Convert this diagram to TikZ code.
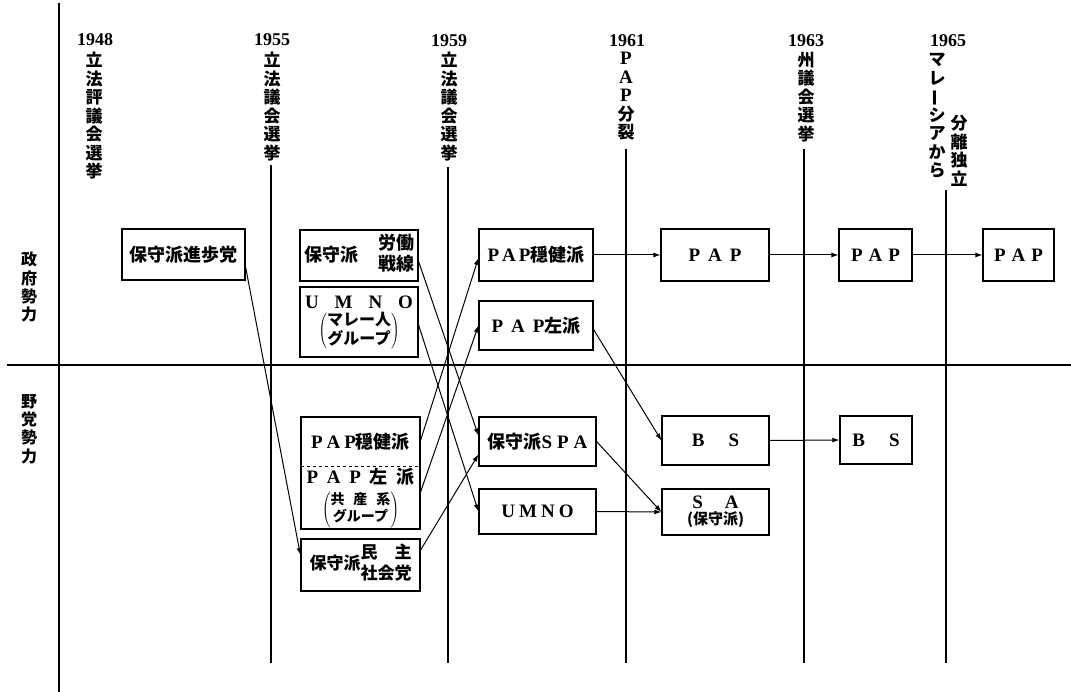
\documentclass[tikz,border=0pt]{standalone}
\usepackage{fontspec}
\usepackage{graphicx}
\setmainfont{Noto Sans CJK JP}
\newfontfamily\latf{Liberation Serif}
\newcommand\latb{\latf\bfseries\fontsize{19}{20}\selectfont}
\usetikzlibrary{arrows.meta}
\begin{document}
\begin{tikzpicture}[x=1pt,y=-1pt,
  box/.style={draw, line width=1.2pt, inner sep=0pt, font=\bfseries\fontsize{18}{21}\selectfont},
  inbox/.style={inner sep=0pt, font=\bfseries\fontsize{18}{21}\selectfont},
  arr/.style={line width=1pt, -{Latex[length=7pt,width=5pt]}},
  vlab/.style={inner sep=0pt, align=center, anchor=north, font=\bfseries\fontsize{17}{18.5}\selectfont},
  year/.style={inner sep=0pt, font=\latf\bfseries\fontsize{18}{18}\selectfont},
  yline/.style={line width=1.3pt},
  axis/.style={line width=2pt},
]
\useasboundingbox (0,0) rectangle (1071,692);

% axes
\draw[axis] (59,3) -- (59,692);
\draw[axis] (7,365) -- (1071,365);

% side labels
\node[vlab, font=\bfseries\fontsize{16}{18.3}\selectfont] (gov) at (29,252) {政\\府\\勢\\力};
\node[vlab, font=\bfseries\fontsize{16}{18.3}\selectfont] (opp) at (29,394) {野\\党\\勢\\力};

% year headers
\node[year] (y48) at (95,40) {1948};
\node[vlab] (t48) at (94,52) {立\\法\\評\\議\\会\\選\\挙};
\node[year] (y55) at (272,40) {1955};
\node[vlab] (t55) at (272,52) {立\\法\\議\\会\\選\\挙};
\node[year] (y59) at (449,41) {1959};
\node[vlab] (t59) at (449,52) {立\\法\\議\\会\\選\\挙};
\node[year] (y61) at (627,41) {1961};
\node[vlab] (t61) at (626,52) {{\latf\fontsize{19}{18.5}\selectfont P}\\{\latf\fontsize{19}{18.5}\selectfont A}\\{\latf\fontsize{19}{18.5}\selectfont P}\\分\\裂};
\node[year] (y63) at (806,41) {1963};
\node[vlab] (t63) at (806,52) {州\\議\\会\\選\\挙};
\node[year] (y65) at (948,41) {1965};
\node[vlab] (t65a) at (937,53) {マ\\レ\\\rotatebox[origin=c]{90}{ー}\\シ\\ア\\か\\ら};
\node[vlab] (t65b) at (959,115) {分\\離\\独\\立};

% year lines
\draw[yline] (271,165) -- (271,663);
\draw[yline] (448,167) -- (448,663);
\draw[yline] (626,149) -- (626,663);
\draw[yline] (804,149) -- (804,663);
\draw[yline] (946,190) -- (946,663);

% government side boxes
\node[box, minimum width=123pt, minimum height=51pt] (kpp) at (183.5,254.5) {保守派進歩党};
\node[box, minimum width=118pt, minimum height=51pt] (lf) at (359,255.5)
  {保守派\hspace{20pt}\raisebox{2pt}{\begin{tabular}[c]{@{}c@{}}労働\\戦線\end{tabular}}};
\node[box, minimum width=118pt, minimum height=70pt] (umno1) at (359,322)
  {\begin{tabular}{@{}c@{}}\makebox[108pt]{\latb U\hfill M\hfill N\hfill O}\\[-3pt]
   $\left(\vcenter{\hbox{\bfseries\fontsize{16}{18}\selectfont\begin{tabular}{@{}c@{}}マレー人\\グループ\end{tabular}}}\right)$\end{tabular}};
\node[box, minimum width=114pt, minimum height=52pt] (pm1) at (536,255) {{\latb P\hspace{3pt}A\hspace{3pt}P}穏健派};
\node[box, minimum width=114pt, minimum height=49pt] (pl1) at (536,325.5) {{\latb P\hspace{8pt}A\hspace{8pt}P}左派};
\node[box, minimum width=108pt, minimum height=52pt] (pap1) at (715,255) {\latb P\hspace{8pt}A\hspace{8pt}P};
\node[box, minimum width=73pt, minimum height=52pt] (pap2) at (875.5,255) {\latb P\hspace{6pt}A\hspace{6pt}P};
\node[box, minimum width=71pt, minimum height=52pt] (pap3) at (1018.5,255) {\latb P\hspace{6pt}A\hspace{6pt}P};

% opposition side boxes
\node[box, minimum width=119pt, minimum height=112pt] (ppbox) at (360.5,473) {};
\node[inbox, minimum width=119pt, minimum height=49pt] (ppm) at (360.5,441.5) {{\latb P\hspace{4pt}A\hspace{4pt}P}穏健派};
\node[inbox, minimum width=119pt, minimum height=63pt] (ppl) at (360.5,498)
  {\begin{tabular}{@{}c@{}}\makebox[108pt]{{\latb P}\hfill{\latb A}\hfill{\latb P}\hfill 左\hfill 派}\\[2pt]
   $\left(\vcenter{\hbox{\bfseries\fontsize{14}{16.5}\selectfont\begin{tabular}{@{}c@{}}\makebox[60pt]{共\hfill 産\hfill 系}\\グループ\end{tabular}}}\right)$\end{tabular}};
\draw[dashed, line width=1pt] (ppm.south west) -- (ppm.south east);
\node[box, minimum width=119pt, minimum height=52pt, font=\bfseries\fontsize{17}{21}\selectfont] (sd) at (360.5,565)
  {保守派\begin{tabular}[c]{@{}c@{}}\makebox[51pt]{民\hfill 主}\\社会党\end{tabular}};
\node[box, minimum width=117pt, minimum height=49pt] (spa) at (537.5,441.5) {保守派{\latb S\hspace{5pt}P\hspace{5pt}A}};
\node[box, minimum width=117pt, minimum height=45pt] (umno2) at (537.5,511.5) {\latb U\hspace{4pt}M\hspace{4pt}N\hspace{4pt}O};
\node[box, minimum width=107pt, minimum height=49pt] (bs1) at (715.5,440.5) {\latb B\hspace{24pt}S};
\node[box, minimum width=72pt, minimum height=48pt] (bs2) at (876,440) {\latb B\hspace{24pt}S};
\node[box, minimum width=107pt, minimum height=46pt, align=center] (sa) at (715.5,512)
  {{\latb S\hspace{22pt}A}\\[-5pt]{\fontsize{15}{15}\selectfont (保守派)}};

% connectors
\draw[arr] ([yshift=-12.5pt]kpp.east) -- ([yshift=10pt]sd.west);
\draw[arr] ([yshift=-6pt]lf.east) -- ([yshift=6pt]spa.west);
\draw[arr] ([yshift=-3pt]umno1.east) -- (umno2.west);
\draw[arr] (ppm.east) -- ([yshift=-3pt]pm1.west);
\draw[arr] ([yshift=5pt]ppl.east) -- (pl1.west);
\draw[arr] ([yshift=15pt]sd.east) -- ([yshift=-13pt]spa.west);
\draw[arr] ([yshift=-4pt]pl1.east) -- (bs1.west);
\draw[arr] (spa.east) -- (sa.west);
\draw[arr] (umno2.east) -- (sa.west);
\draw[arr] (pm1.east) -- (pap1.west);
\draw[arr] (pap1.east) -- (pap2.west);
\draw[arr] (pap2.east) -- (pap3.west);
\draw[arr] (bs1.east) -- (bs2.west);
\end{tikzpicture}
\end{document}
